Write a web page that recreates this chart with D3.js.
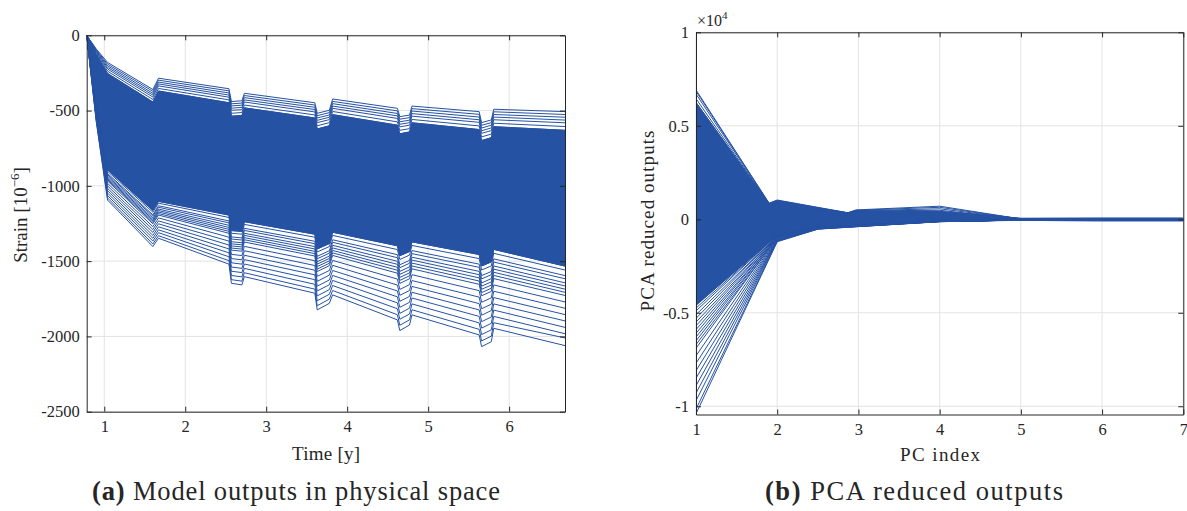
<!DOCTYPE html>
<html><head><meta charset="utf-8">
<script src="https://cdn.jsdelivr.net/npm/d3@7"></script>
<style>
body{margin:0;background:#fff}
text{font-family:"Liberation Serif","Times New Roman",serif;fill:#262626}
</style>
</head><body>
<svg id="c" width="1187" height="511"></svg>
<script>
// ---------- Panel (a): model outputs in physical space ----------
const timeYears = [0.783, 0.90, 1.04, 1.60, 1.67, 2.54, 2.57, 2.70, 2.73, 3.60, 3.63, 3.78, 3.82, 4.62, 4.65, 4.77, 4.80, 5.63, 5.66, 5.78, 5.81, 6.69];
const timeTicks = [1, 2, 3, 4, 5, 6];
const strainTicks = [0, -500, -1000, -1500, -2000, -2500];

const strainTop   = [0, -90, -180, -360, -285, -355, -440, -435, -385, -448, -518, -498, -423, -485, -540, -530, -470, -507, -580, -562, -491, -507];
const strainUp1   = [0, -96, -191, -372, -298, -369, -455, -450, -400, -463, -534, -513, -439, -502, -557, -547, -487, -525, -598, -580, -508, -526];
const strainUp2   = [0, -101, -202, -385, -311, -383, -469, -464, -414, -478, -549, -529, -454, -519, -574, -564, -503, -543, -616, -597, -526, -544];
const strainUp3   = [0, -107, -213, -397, -323, -397, -484, -479, -429, -493, -565, -544, -470, -535, -591, -580, -520, -561, -634, -615, -543, -563];
const strainUp4   = [0, -113, -224, -410, -336, -411, -498, -494, -443, -509, -580, -560, -485, -552, -608, -597, -537, -578, -651, -633, -561, -581];
const strainUp5   = [0, -120, -238, -426, -353, -429, -518, -513, -463, -529, -601, -580, -506, -575, -631, -620, -559, -602, -675, -656, -584, -606];
const strainCoreTop = [0, -128, -253, -443, -370, -448, -537, -533, -482, -549, -622, -601, -527, -597, -654, -642, -581, -626, -699, -680, -607, -631];
const strainCoreBot = [0, -464, -893, -1163, -1103, -1194, -1297, -1303, -1238, -1321, -1419, -1383, -1308, -1398, -1464, -1436, -1372, -1456, -1532, -1505, -1422, -1533];
const strainLow0a = [0, -469, -903, -1175, -1115, -1210, -1315, -1321, -1256, -1341, -1439, -1403, -1329, -1423, -1489, -1460, -1396, -1483, -1559, -1532, -1448, -1559];
const strainLow1  = [0, -477, -917, -1192, -1132, -1233, -1339, -1346, -1282, -1368, -1468, -1431, -1358, -1457, -1524, -1495, -1430, -1520, -1596, -1569, -1485, -1596];
const strainLow1a = [0, -481, -925, -1201, -1142, -1246, -1353, -1360, -1296, -1384, -1484, -1447, -1375, -1477, -1544, -1514, -1450, -1541, -1618, -1590, -1506, -1617];
const strainLow2  = [0, -486, -935, -1213, -1154, -1262, -1371, -1378, -1315, -1403, -1504, -1466, -1395, -1501, -1568, -1538, -1474, -1568, -1645, -1616, -1532, -1644];
const strainLow2a = [0, -491, -943, -1223, -1164, -1276, -1385, -1392, -1329, -1419, -1520, -1482, -1412, -1521, -1588, -1558, -1493, -1590, -1666, -1638, -1553, -1665];
const strainLow3  = [0, -495, -951, -1233, -1174, -1289, -1399, -1406, -1344, -1435, -1536, -1498, -1429, -1541, -1608, -1578, -1513, -1611, -1687, -1659, -1574, -1686];
const strainLow3a = [0, -499, -959, -1242, -1184, -1302, -1413, -1420, -1358, -1450, -1553, -1514, -1445, -1560, -1628, -1597, -1532, -1632, -1709, -1680, -1595, -1707];
const strainLow4  = [0, -503, -967, -1252, -1194, -1315, -1427, -1434, -1373, -1466, -1569, -1530, -1462, -1580, -1648, -1617, -1551, -1654, -1730, -1701, -1616, -1728];
const strainLow5  = [0, -512, -983, -1271, -1213, -1341, -1455, -1463, -1402, -1497, -1601, -1562, -1495, -1619, -1688, -1656, -1590, -1696, -1773, -1744, -1658, -1771];
const strainLow6  = [0, -520, -1000, -1290, -1233, -1367, -1483, -1491, -1431, -1529, -1634, -1593, -1528, -1659, -1727, -1695, -1629, -1739, -1816, -1786, -1700, -1813];
const strainLow7  = [0, -529, -1016, -1309, -1252, -1393, -1511, -1520, -1461, -1560, -1666, -1625, -1562, -1698, -1767, -1734, -1668, -1782, -1859, -1828, -1742, -1855];
const strainLow8  = [0, -537, -1032, -1329, -1272, -1419, -1539, -1548, -1490, -1591, -1698, -1657, -1595, -1737, -1807, -1773, -1707, -1824, -1902, -1871, -1784, -1897];
const strainLow9  = [0, -546, -1048, -1348, -1292, -1445, -1567, -1576, -1519, -1623, -1731, -1689, -1628, -1777, -1847, -1812, -1745, -1867, -1945, -1913, -1825, -1940];
const strainLow10 = [0, -554, -1064, -1367, -1311, -1471, -1595, -1605, -1548, -1654, -1763, -1720, -1662, -1816, -1886, -1851, -1784, -1910, -1988, -1956, -1867, -1982];
const strainLow11 = [0, -563, -1080, -1386, -1331, -1497, -1623, -1633, -1577, -1686, -1796, -1752, -1695, -1856, -1926, -1890, -1823, -1953, -2030, -1998, -1909, -2010];
const strainBottom= [0, -570, -1094, -1403, -1348, -1520, -1647, -1658, -1603, -1713, -1824, -1780, -1724, -1890, -1961, -1924, -1857, -1990, -2068, -2035, -1946, -2061];

// ---------- Panel (b): PCA reduced outputs ----------
const pcIndexFan = [1, 1.9, 2, 2.5, 2.87, 2.97, 4, 5, 6, 7];
const pcIndexLow = [1, 2, 2.5, 2.97, 4, 5, 6, 7];
const pcTicks = [1, 2, 3, 4, 5, 6, 7];
const pcValueTicks = [10000, 5000, 0, -5000, -10000];
const pcValueLabels = ["1", "0.5", "0", "-0.5", "-1"];

const pcUp1 = [6920, 860, 1030, 640, 350, 500, 700, 20, 20, 20];
const pcUp2 = [6850, 850, 1010, 620, 345, 480, 640, 20, 20, 20];
const pcUp3 = [6700, 840, 990, 600, 340, 460, 560, 20, 20, 20];
const pcUp4 = [6450, 830, 960, 590, 335, 450, 480, 20, 20, 20];
const pcCoreTop = [6250, 820, 940, 580, 330, 440, 420, 50, 60, 60];
const pcCoreBot = [-4600, -1220, -850, -420, -340, -330, -95, -60, -80, -80];
const pcLow1  = [-10400, -1200, -530, -400, -130, -40, -40, -40];
const pcLow2  = [-10150, -1180, -520, -395, -128, -40, -40, -40];
const pcLow3  = [-9700, -1160, -515, -390, -125, -40, -40, -40];
const pcLow4  = [-9300, -1140, -505, -385, -122, -40, -40, -40];
const pcLow5  = [-8900, -1120, -500, -380, -120, -40, -40, -40];
const pcLow6  = [-8500, -1100, -490, -375, -118, -40, -40, -40];
const pcLow7  = [-8100, -1070, -480, -370, -115, -40, -40, -40];
const pcLow8  = [-7700, -1040, -470, -365, -112, -40, -40, -40];
const pcLow9  = [-7300, -1010, -460, -360, -110, -40, -40, -40];
const pcLow10 = [-6900, -980, -450, -355, -108, -40, -40, -40];
const pcLow11 = [-6500, -950, -440, -350, -105, -40, -40, -40];
const pcLow12 = [-6100, -920, -430, -345, -102, -40, -40, -40];
const pcLow13 = [-5700, -890, -420, -340, -100, -40, -40, -40];
const pcLow14 = [-5300, -860, -410, -335, -98, -40, -40, -40];
const pcLow15 = [-4900, -830, -400, -330, -95, -40, -40, -40];
const pcLow16 = [-4750, -845, -405, -332, -96, -40, -40, -40];
const pcLow17 = [-5100, -875, -415, -338, -99, -40, -40, -40];
const pcLow18 = [-5500, -905, -425, -342, -101, -40, -40, -40];
const pcLow19 = [-5900, -935, -435, -348, -104, -40, -40, -40];
const pcLow20 = [-6300, -965, -445, -352, -106, -40, -40, -40];
const pcLow21 = [-6700, -995, -455, -358, -109, -40, -40, -40];

// ---------- drawing ----------
const BLUE = "#2652a3";
const AXIS = "#262626";
const GRID = "#e3e3e3";
const svg = d3.select("#c");
svg.append("rect").attr("width", 1187).attr("height", 511).attr("fill", "#fff");

function drawPanel(p) {
  const g = svg.append("g");
  const x = d3.scaleLinear().domain(p.xDomain).range([p.left, p.right]);
  const y = d3.scaleLinear().domain(p.yDomain).range([p.bottom, p.top]);

  g.selectAll(null).data(p.xTicks).join("line")
    .attr("x1", d => x(d)).attr("x2", d => x(d))
    .attr("y1", p.top).attr("y2", p.bottom)
    .attr("stroke", GRID).attr("stroke-width", 1);
  g.selectAll(null).data(p.yTicks).join("line")
    .attr("y1", d => y(d)).attr("y2", d => y(d))
    .attr("x1", p.left).attr("x2", p.right)
    .attr("stroke", GRID).attr("stroke-width", 1);

  const clipId = "clip" + p.id;
  svg.append("clipPath").attr("id", clipId).append("rect")
    .attr("x", p.left).attr("y", p.top)
    .attr("width", p.right - p.left).attr("height", p.bottom - p.top);
  const data = g.append("g").attr("clip-path", `url(#${clipId})`);

  const area = d3.area()
    .x((d, i) => x(p.coreX[i]))
    .y0((d, i) => y(p.coreBot[i]))
    .y1(d => y(d));
  data.append("path").datum(p.coreTop).attr("d", area).attr("fill", BLUE).attr("stroke", BLUE).attr("stroke-width", 1);

  p.series.forEach(s => {
    const line = d3.line().x((d, i) => x(s.x[i])).y(d => y(d));
    s.lines.forEach(vals => {
      data.append("path").datum(vals).attr("d", line)
        .attr("fill", "none").attr("stroke", BLUE).attr("stroke-width", 1)
        .attr("stroke-linejoin", "round");
    });
  });

  const bottomAx = d3.axisBottom(x).tickValues(p.xTicks).tickSizeInner(-5).tickSizeOuter(0).tickPadding(9)
    .tickFormat(d3.format("d"));
  const topAx = d3.axisTop(x).tickValues(p.xTicks).tickSizeInner(-5).tickSizeOuter(0).tickFormat("");
  const leftAx = d3.axisLeft(y).tickValues(p.yTicks).tickSizeInner(-5).tickSizeOuter(0).tickPadding(7)
    .tickFormat((d, i) => p.yLabels[i]);
  const rightAx = d3.axisRight(y).tickValues(p.yTicks).tickSizeInner(-5).tickSizeOuter(0).tickFormat("");

  const style = sel => {
    sel.selectAll("path.domain").attr("stroke", AXIS).attr("stroke-width", 1);
    sel.selectAll(".tick line").attr("stroke", AXIS);
    sel.selectAll(".tick text").attr("font-family", "Liberation Serif, serif").attr("font-size", 16.5).attr("fill", AXIS);
  };
  g.append("g").attr("transform", `translate(0,${p.bottom})`).call(bottomAx).call(style);
  g.append("g").attr("transform", `translate(0,${p.top})`).call(topAx).call(style);
  g.append("g").attr("transform", `translate(${p.left},0)`).call(leftAx).call(style);
  g.append("g").attr("transform", `translate(${p.right},0)`).call(rightAx).call(style);
}

drawPanel({
  id: "a", left: 86.7, right: 565, top: 35.3, bottom: 411.7,
  xDomain: [0.783, 6.69], yDomain: [-2500, 0],
  xTicks: timeTicks, yTicks: strainTicks,
  yLabels: strainTicks.map(v => String(v)),
  coreX: timeYears, coreTop: strainCoreTop, coreBot: strainCoreBot,
  series: [{x: timeYears, lines: [strainTop, strainUp1, strainUp2, strainUp3, strainUp4, strainUp5,
    strainCoreTop, strainCoreBot, strainLow0a, strainLow1, strainLow1a, strainLow2, strainLow2a,
    strainLow3, strainLow3a, strainLow4, strainLow5, strainLow6, strainLow7, strainLow8,
    strainLow9, strainLow10, strainLow11, strainBottom]}]
});

drawPanel({
  id: "b", left: 696, right: 1183.3, top: 32.3, bottom: 414.5,
  xDomain: [1, 7], yDomain: [-10440, 10000],
  xTicks: pcTicks, yTicks: pcValueTicks, yLabels: pcValueLabels,
  coreX: pcIndexFan, coreTop: pcCoreTop, coreBot: pcCoreBot,
  series: [
    {x: pcIndexFan, lines: [pcUp1, pcUp2, pcUp3, pcUp4, pcCoreTop, pcCoreBot]},
    {x: pcIndexLow, lines: [pcLow1, pcLow2, pcLow3, pcLow4, pcLow5, pcLow6, pcLow7, pcLow8,
      pcLow9, pcLow10, pcLow11, pcLow12, pcLow13, pcLow14, pcLow15, pcLow16, pcLow17,
      pcLow18, pcLow19, pcLow20, pcLow21]}
  ]
});

// ---------- text ----------
const yl = svg.append("text").attr("transform", "translate(27,215) rotate(-90)")
  .attr("text-anchor", "middle").attr("font-size", 19);
yl.append("tspan").text("Strain [10");
yl.append("tspan").attr("font-size", 13).attr("dy", -8).text("\u22126");
yl.append("tspan").attr("dy", 8).text("]");

svg.append("text").attr("transform", "translate(654,221) rotate(-90)")
  .attr("text-anchor", "middle").attr("font-size", 19)
  .attr("textLength", 181).attr("lengthAdjust", "spacing").text("PCA reduced outputs");

svg.append("text").attr("x", 326).attr("y", 460).attr("text-anchor", "middle")
  .attr("font-size", 19).attr("textLength", 68).attr("lengthAdjust", "spacing").text("Time [y]");
svg.append("text").attr("x", 940).attr("y", 461).attr("text-anchor", "middle")
  .attr("font-size", 19).attr("textLength", 80).attr("lengthAdjust", "spacing").text("PC index");

const ex = svg.append("text").attr("x", 697).attr("y", 26).attr("font-size", 16);
ex.append("tspan").text("\u00d710");
ex.append("tspan").attr("font-size", 11).attr("dy", -7).text("4");

function caption(x0, width, label, rest) {
  const t = svg.append("text").attr("x", x0).attr("y", 500)
    .attr("font-size", 26.5).attr("textLength", width).attr("lengthAdjust", "spacing");
  t.append("tspan").attr("font-weight", "bold").text(label);
  t.append("tspan").text(" " + rest);
}
caption(92, 408, "(a)", "Model outputs in physical space");
caption(765, 298, "(b)", "PCA reduced outputs");
</script>
</body></html>
